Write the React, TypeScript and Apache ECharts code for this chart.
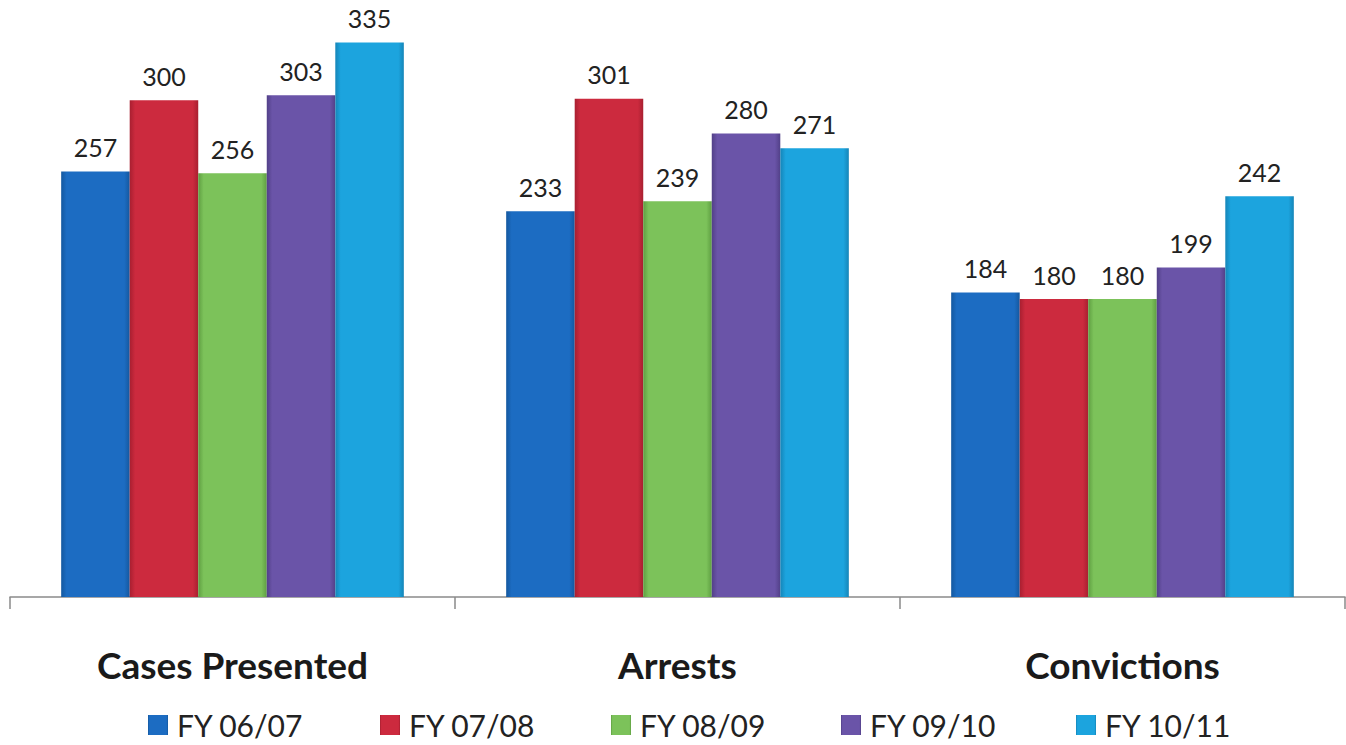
import React, { useEffect, useRef } from "react";
import * as echarts from "echarts";

const categories = ["Cases Presented", "Arrests", "Convictions"];
const seriesNames = ["FY 06/07", "FY 07/08", "FY 08/09", "FY 09/10", "FY 10/11"];
const fy0607 = [257, 233, 184];
const fy0708 = [300, 301, 180];
const fy0809 = [256, 239, 180];
const fy0910 = [303, 280, 199];
const fy1011 = [335, 271, 242];
const seriesValues = [fy0607, fy0708, fy0809, fy0910, fy1011];

const baseColors = ["#1c6cc2", "#cc2a3e", "#7cc25a", "#6a54a8", "#1ca4de"];
const edgeColors = ["#14589f", "#a81f30", "#5f9f42", "#524088", "#1585b8"];
const legendLeft = [143, 375, 606, 836, 1071];

export default function App() {
  const ref = useRef<HTMLDivElement>(null);
  useEffect(() => {
    if (!ref.current) return;
    const chart = echarts.init(ref.current, undefined, { renderer: "svg" });
    const mkColor = (i: number) =>
      new echarts.graphic.LinearGradient(0, 0, 1, 0, [
        { offset: 0, color: edgeColors[i] },
        { offset: 0.08, color: baseColors[i] },
        { offset: 0.92, color: baseColors[i] },
        { offset: 1, color: edgeColors[i] },
      ]);
    chart.setOption({
      animation: false,
      backgroundColor: "#ffffff",
      textStyle: { fontFamily: "Lato" },
      grid: { left: 10, right: 1, top: 1, bottom: 148, containLabel: false },
      legend: seriesNames.map((n, i) => ({
        data: [n],
        left: legendLeft[i],
        top: 705,
        itemWidth: 20,
        itemHeight: 20,
        icon: "rect",
        textStyle: { fontSize: 30, color: "#222", fontFamily: "Lato", padding: [0, 0, 0, 4] },
      })),
      xAxis: {
        type: "category",
        data: categories,
        axisLine: { show: true, lineStyle: { color: "#8a8a8a", width: 1.5 } },
        axisTick: { show: true, length: 12, lineStyle: { color: "#8a8a8a", width: 1.5 } },
        axisLabel: {
          margin: 49,
          fontSize: 37,
          fontWeight: "bold",
          color: "#1a1a1a",
          fontFamily: "Lato",
        },
      },
      yAxis: {
        type: "value",
        min: 0,
        max: 360,
        show: false,
        splitLine: { show: false },
      },
      series: seriesNames.map((n, i) => ({
        name: n,
        type: "bar",
        data: seriesValues[i],
        barGap: "0%",
        barCategoryGap: "23%",
        itemStyle: { color: mkColor(i) },
        label: {
          show: true,
          position: "top",
          distance: 12,
          fontSize: 25,
          color: "#222",
          fontFamily: "Lato",
        },
      })),
    });
    return () => chart.dispose();
  }, []);
  return (
    <div
      ref={ref}
      style={{ position: "absolute", left: 0, top: 0, width: 1346, height: 745 }}
    />
  );
}
